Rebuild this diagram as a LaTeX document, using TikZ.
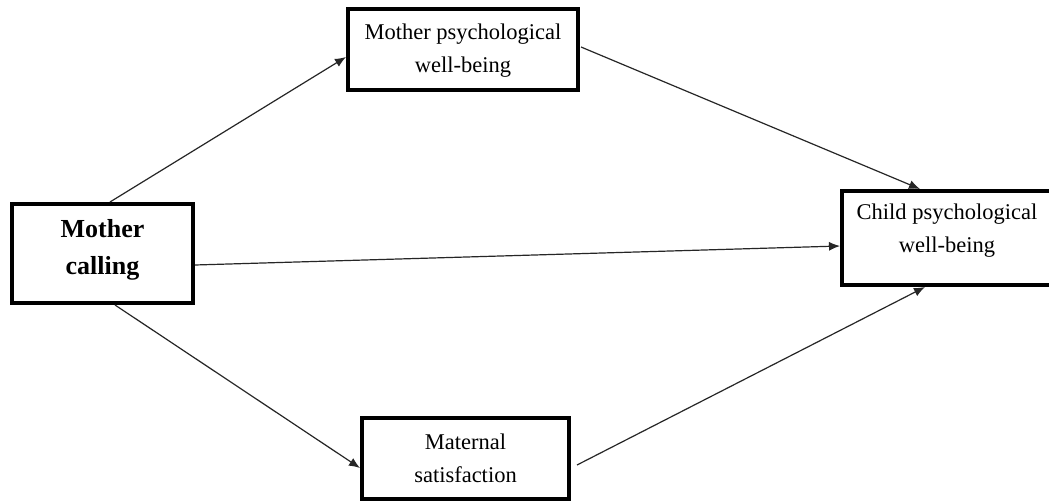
\documentclass[tikz,border=0pt]{standalone}
\usepackage{fontspec}
\setmainfont{Liberation Serif}
\usetikzlibrary{arrows.meta}
\begin{document}
\begin{tikzpicture}[x=1pt,y=1pt,
  box/.style={draw=black,line width=4pt,fill=white,inner sep=0pt,align=center},
  plain/.style={font=\fontsize{22.5}{33}\selectfont},
  bold/.style={font=\fontsize{26}{37}\selectfont\bfseries},
  conn/.style={line width=1.2pt,draw=black!85,-{Latex[length=11pt,width=9pt]}}]
\useasboundingbox (0,0) rectangle (1049,-502);
\fill[white] (0,0) rectangle (1049,-502);
% boxes
\node[box,minimum width=181pt,minimum height=99pt] (mc) at (102.5,-253.5) {};
\node[bold,align=center] (mct) at (102.5,-250) {Mother\\calling};
\node[box,minimum width=230pt,minimum height=81pt] (mp) at (463,-49.5) {};
\node[plain,align=center] (mpt) at (463,-51) {Mother psychological\\well-being};
\node[box,minimum width=209pt,minimum height=94pt] (cw) at (946.5,-238) {};
\node[plain,align=center] (cwt) at (947,-231) {Child psychological\\well-being};
\node[box,minimum width=207pt,minimum height=81pt] (ms) at (465.5,-458.5) {};
\node[plain,align=center] (mst) at (465.5,-458) {Maternal\\satisfaction};
% connectors
\draw[conn] ([xshift=7.5pt]mc.north) -- ([yshift=-7.5pt]mp.west);
\draw[conn] ([yshift=2.5pt,xshift=1pt]mp.east) -- ([xshift=-26.5pt]cw.north);
\draw[conn] ([yshift=-11.5pt]mc.east) -- ([yshift=-8pt]cw.west);
\draw[conn] ([xshift=12.5pt]mc.south) -- ([yshift=-9.5pt]ms.west);
\draw[conn] ([xshift=6pt,yshift=-6.5pt]ms.east) -- ([xshift=-21.5pt]cw.south);
\end{tikzpicture}
\end{document}
